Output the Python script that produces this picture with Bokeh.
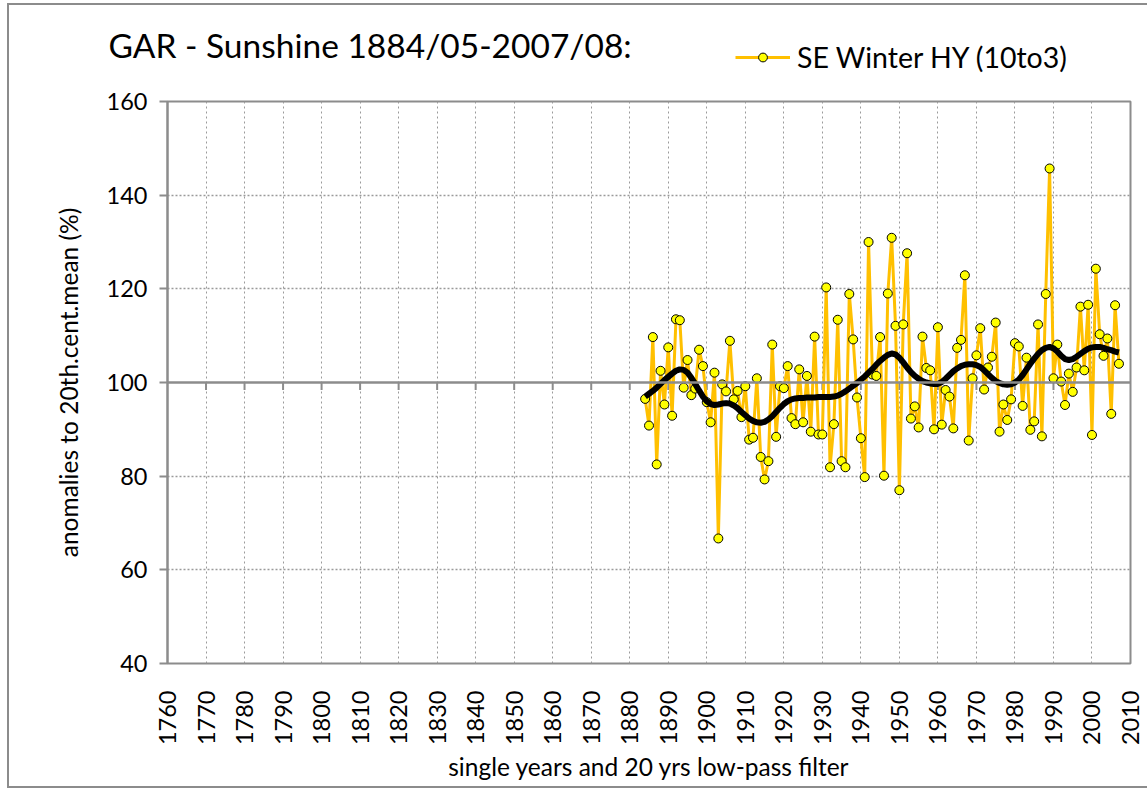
import math
from bokeh.plotting import figure
from bokeh.layouts import column
from bokeh.models import FixedTicker, Legend, LegendItem, Span, Range1d, Label
from bokeh.embed import file_html
from bokeh.resources import INLINE

# ---------------- data ----------------
first_year = 1884
sunshine = [
    96.5, 90.8, 109.7, 82.5, 102.5, 95.3, 107.5, 92.9, 113.5, 113.3,   # 1884-1893
    98.9, 104.8, 97.3, 98.7, 107.0, 103.5, 95.8, 91.5, 102.1, 66.7,    # 1894-1903
    99.6, 98.1, 108.9, 96.4, 98.2, 92.6, 99.2, 87.8, 88.2, 100.9,      # 1904-1913
    84.1, 79.3, 83.2, 108.1, 88.4, 99.2, 98.8, 103.5, 92.4, 91.1,      # 1914-1923
    102.8, 91.5, 101.4, 89.5, 109.8, 88.9, 88.9, 120.3, 81.9, 91.1,    # 1924-1933
    113.4, 83.2, 81.9, 118.9, 109.2, 96.8, 88.1, 79.8, 130.0, 101.7,   # 1934-1943
    101.4, 109.7, 80.1, 119.0, 130.9, 112.1, 77.0, 112.4, 127.6, 92.3, # 1944-1953
    94.9, 90.4, 109.8, 103.1, 102.6, 90.0, 111.8, 91.0, 98.4, 97.0,    # 1954-1963
    90.2, 107.4, 109.1, 122.9, 87.6, 100.9, 105.8, 111.6, 98.5, 103.2, # 1964-1973
    105.5, 112.8, 89.5, 95.3, 92.0, 96.4, 108.4, 107.7, 95.0, 105.3,   # 1974-1983
    89.9, 91.7, 112.4, 88.5, 118.9, 145.7, 100.9, 108.1, 100.2, 95.2,  # 1984-1993
    101.9, 98.0, 103.2, 116.2, 102.6, 116.6, 88.8, 124.3, 110.3, 105.7,# 1994-2003
    109.4, 93.3, 116.5, 104.0,                                          # 2004-2007
]
lowpass = [
    97.0, 97.6, 98.2, 98.9, 99.7, 100.5, 101.2, 101.9, 102.5, 102.8,   # 1884-1893
    102.7, 102.1, 101.0, 99.7, 98.3, 97.0, 96.0, 95.4, 95.2, 95.3,     # 1894-1903
    95.5, 95.6, 95.5, 95.1, 94.5, 93.7, 93.0, 92.3, 91.8, 91.5,        # 1904-1913
    91.4, 91.6, 92.1, 92.8, 93.7, 94.6, 95.4, 96.0, 96.4, 96.6,        # 1914-1923
    96.7, 96.7, 96.8, 96.8, 96.8, 96.9, 96.9, 96.9, 96.9, 97.0,        # 1924-1933
    97.2, 97.6, 98.1, 98.7, 99.3, 99.9, 100.6, 101.3, 102.1, 102.9,    # 1934-1943
    103.8, 104.6, 105.3, 105.9, 106.2, 106.0, 105.3, 104.3, 103.2, 102.2, # 1944-1953
    101.4, 100.8, 100.3, 100.0, 99.8, 99.7, 99.7, 100.1, 100.8, 101.6, # 1954-1963
    102.4, 103.0, 103.5, 103.8, 103.9, 103.9, 103.7, 103.3, 102.6, 101.8, # 1964-1973
    101.0, 100.3, 99.9, 99.6, 99.5, 99.6, 100.0, 100.6, 101.6, 102.8,  # 1974-1983
    104.0, 105.1, 106.1, 106.9, 107.4, 107.6, 107.3, 106.6, 105.7, 105.0, # 1984-1993
    104.8, 105.0, 105.5, 106.1, 106.7, 107.2, 107.5, 107.6, 107.6, 107.4, # 1994-2003
    107.1, 106.9, 106.6, 106.4,                                          # 2004-2007
]
years = list(range(first_year, first_year + len(sunshine)))

x_ticks = [1760, 1770, 1780, 1790, 1800, 1810, 1820, 1830, 1840, 1850, 1860, 1870,
           1880, 1890, 1900, 1910, 1920, 1930, 1940, 1950, 1960, 1970, 1980, 1990,
           2000, 2010]
y_ticks = [40, 60, 80, 100, 120, 140, 160]
y_grid = [60, 80, 120, 140]
baseline = 100

title_text = "GAR - Sunshine 1884/05-2007/08:"
series_name = "SE Winter HY (10to3)"
x_title = "single years and 20 yrs low-pass filter"
y_title = "anomalies to 20th.cent.mean (%)"

FONT = "Lato"
GRAY = "#8c8c8c"
ORANGE = "#FFC000"
YELLOW = "#FFFF00"
W = 1138

# ---------------- header: title and legend ----------------
# its ranges lie outside the data, so the series drawn here stay hidden and
# only serve as legend glyph sources
hdr = figure(width=W, height=80, x_axis_type=None, y_axis_type=None,
             x_range=Range1d(0, 1), y_range=Range1d(0, 1),
             min_border=0, output_backend="svg", toolbar_location=None)
hdr.frame_align = False
hdr.outline_line_color = None
hdr.grid.visible = False
hdr.add_layout(Label(x=99, y=41, x_units="screen", y_units="screen",
                     text=title_text, text_font=FONT, text_font_size="33.5px",
                     text_baseline="middle", text_color="black"))
leg_line = hdr.line(years, sunshine, line_color=ORANGE, line_width=3)
leg_pts = hdr.scatter(years, sunshine, size=9, fill_color=YELLOW,
                      line_color="black", line_width=1)
legend = Legend(items=[LegendItem(label=series_name, renderers=[leg_line, leg_pts])],
                location=(726, 11), orientation="horizontal",
                background_fill_alpha=0, border_line_color=None,
                padding=0, margin=0, glyph_width=55, glyph_height=22,
                label_standoff=7, label_text_font=FONT,
                label_text_color="black",
                label_text_font_size="28.5px", label_text_baseline="middle")
hdr.add_layout(legend, "center")

# ---------------- main chart ----------------
p = figure(width=W, height=701,
           min_border_left=158, min_border_right=17,
           min_border_top=16, min_border_bottom=123,
           x_range=Range1d(x_ticks[0], x_ticks[-1]),
           y_range=Range1d(y_ticks[0], y_ticks[-1]),
           output_backend="svg", toolbar_location=None)
p.frame_align = False
p.outline_line_color = GRAY
p.outline_line_width = 2
p.background_fill_color = "white"
p.border_fill_color = "white"

# grids
p.xgrid.ticker = FixedTicker(ticks=x_ticks[1:-1])
p.xgrid.grid_line_color = "#9a9a9a"
p.xgrid.grid_line_dash = "2 3"
p.xgrid.grid_line_width = 1
p.ygrid.ticker = FixedTicker(ticks=y_grid)
p.ygrid.grid_line_color = "#9a9a9a"
p.ygrid.grid_line_dash = "2 2"
p.ygrid.grid_line_width = 1.5

# x axis
xa = p.xaxis[0]
xa.ticker = FixedTicker(ticks=x_ticks)
xa.major_label_orientation = math.pi / 2
xa.major_tick_out = 0
xa.major_tick_in = 0
xa.minor_tick_out = 0
xa.minor_tick_in = 0
xa.axis_line_color = None
xa.major_label_standoff = 27
xa.major_label_text_font = FONT
xa.major_label_text_font_size = "23.5px"
xa.major_label_text_color = "black"
xa.axis_label = x_title
xa.axis_label_text_font = FONT
xa.axis_label_text_font_size = "24.5px"
xa.axis_label_text_font_style = "normal"
xa.axis_label_text_color = "black"
xa.axis_label_standoff = 4

# y axis
ya = p.yaxis[0]
ya.ticker = FixedTicker(ticks=y_ticks)
ya.major_tick_out = 8
ya.major_tick_in = 0
ya.minor_tick_out = 0
ya.minor_tick_in = 0
ya.axis_line_color = GRAY
ya.axis_line_width = 2
ya.major_tick_line_color = GRAY
ya.major_tick_line_width = 2
ya.major_label_standoff = 12
ya.major_label_text_font = FONT
ya.major_label_text_font_size = "23.5px"
ya.major_label_text_color = "black"
ya.axis_label = y_title
ya.axis_label_text_font = FONT
ya.axis_label_text_font_size = "24.5px"
ya.axis_label_text_font_style = "normal"
ya.axis_label_text_color = "black"
ya.axis_label_standoff = 21

# baseline (category axis crossing at 100) with its tick marks
p.add_layout(Span(location=baseline, dimension="width", line_color=GRAY, line_width=2.5))
p.segment(x0=x_ticks[1:-1], y0=[baseline] * (len(x_ticks) - 2),
          x1=x_ticks[1:-1], y1=[baseline - 1.6] * (len(x_ticks) - 2),
          line_color=GRAY, line_width=2)

# series
p.line(years, sunshine, line_color=ORANGE, line_width=3)
p.scatter(years, sunshine, size=9, fill_color=YELLOW, line_color="black", line_width=1)
p.line(years, lowpass, line_color="black", line_width=6, line_join="round")

page = column(hdr, p, spacing=0)
page.styles = {"margin-left": "7px", "margin-top": "3px",
               "border-left": "2px solid #8c8c8c",
               "border-top": "2px solid #8c8c8c",
               "border-bottom": "2px solid #8c8c8c"}

open("out.html", "w").write(file_html(page, INLINE))
